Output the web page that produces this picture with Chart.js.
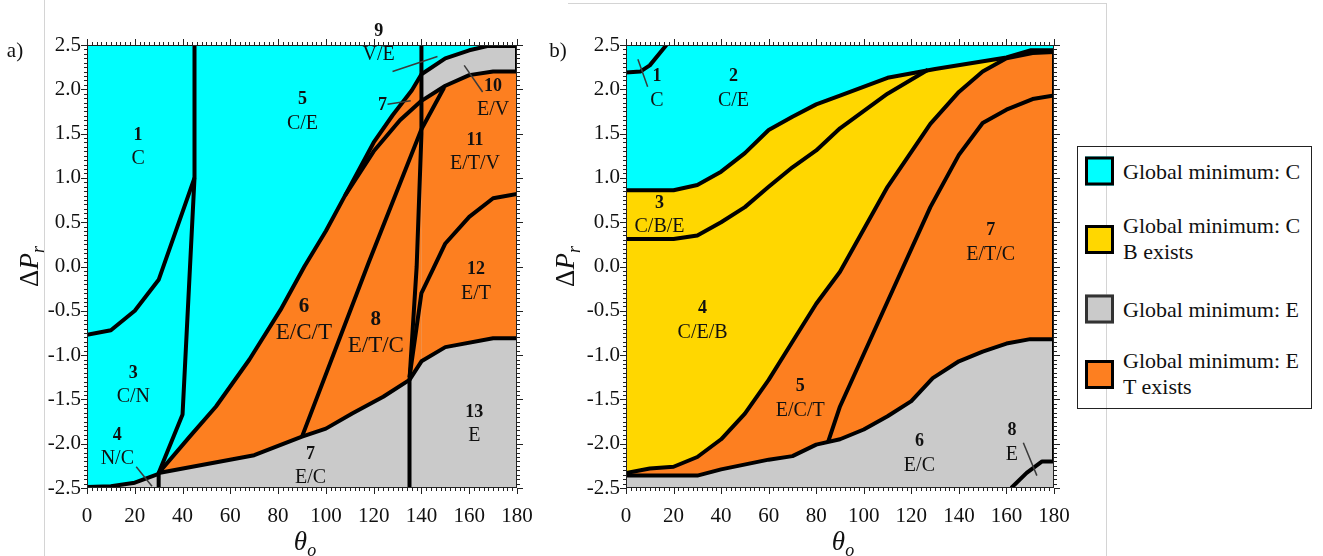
<!DOCTYPE html>
<html>
<head>
<meta charset="utf-8">
<script src="https://cdn.jsdelivr.net/npm/chart.js@4.4.1/dist/chart.umd.min.js"></script>
<style>
  body { margin: 0; background: #fff; width: 1323px; height: 556px; position: relative; overflow: hidden; }
  canvas { position: absolute; top: 0; }
  .rule { position: absolute; background: #d4d4d4; }
  #legend { position: absolute; left: 1077px; top: 146px; width: 233px; height: 261px;
            border: 1.5px solid #222; font-family: "Liberation Serif", serif; font-size: 22px; color: #111; }
  .item { position: absolute; left: 7px; display: flex; align-items: center; transform: translateY(-50%); }
  .sw { width: 23px; height: 23px; border: 3px solid #000; margin-right: 9px; flex: none; }
  .txt { line-height: 26px; white-space: nowrap; }
</style>
</head>
<body>
<div class="rule" style="left:44px;top:0;width:1px;height:556px"></div>
<div class="rule" style="left:568px;top:3px;width:538px;height:1px"></div>
<div class="rule" style="left:1106px;top:3px;width:1px;height:553px"></div>
<canvas id="chartA" width="540" height="556" style="left:0"></canvas>
<canvas id="chartB" width="535" height="556" style="left:540px"></canvas>
<div id="legend"></div>
<script>
// ---------- axes ----------
const xTicks = [0, 20, 40, 60, 80, 100, 120, 140, 160, 180];
const yTicks = [-2.5, -2.0, -1.5, -1.0, -0.5, 0.0, 0.5, 1.0, 1.5, 2.0, 2.5];

// ---------- panel a) region boundaries [theta, dP] ----------
const aCurve13 = [[0, -0.77], [10, -0.72], [20, -0.5], [30, -0.15], [45, 1.0]];
const aVert45 = [[45, 2.5], [45, 1.0], [40, -1.67], [30, -2.33], [30, -2.5]];
const aCurve34 = [[0, -2.49], [10, -2.48], [20, -2.44], [30, -2.34]];
const aOuter = [[30, -2.33], [43, -1.92], [54, -1.58], [68, -1.05], [81, -0.49], [91, 0.0], [100, 0.4],
  [108, 0.8], [120, 1.4], [128, 1.71], [136, 1.99], [140, 2.17], [150, 2.35], [160, 2.44], [168, 2.49], [180, 2.49]];
const aInner = [[108, 0.8], [120, 1.3], [131, 1.65], [140, 1.87], [150, 2.04], [160, 2.16], [170, 2.2], [180, 2.2]];
const aLower = [[30, -2.33], [70, -2.13], [90, -1.92], [100, -1.83], [111, -1.66], [124, -1.47], [135, -1.28],
  [140, -1.07], [150, -0.91], [170, -0.81], [180, -0.81]];
const aDiag = [[90, -1.92], [118, 0.05], [140, 1.55], [149.5, 2.02]];
const aVert140 = [[140, 2.5], [140, 1.5], [138, 0.0], [135, -1.28], [135, -2.5]];
const aCurve12 = [[135, -1.25], [140, -0.3], [145, -0.02], [150, 0.26], [160, 0.56], [170, 0.77], [180, 0.82]];
const aEdge = [[180, 2.49], [180, 2.2]];

// region labels: [number, phases, theta, dP]
const aLabels = [
  ['1', 'C', 21.4, 1.35], ['5', 'C/E', 90.2, 1.75], ['9', 'V/E', 122.1, 2.52], ['7', '', 123.7, 1.82],
  ['10', 'E/V', 170, 1.9], ['11', 'E/T/V', 162.4, 1.29], ['12', 'E/T', 162.8, -0.17], ['13', 'E', 162.1, -1.78],
  ['6', 'E/C/T', 90.8, -0.6], ['8', 'E/T/C', 120.9, -0.75], ['7', 'E/C', 93.6, -2.25],
  ['3', 'C/N', 19.4, -1.34], ['4', 'N/C', 12.7, -2.04]
];
const aLeaders = [[127.9, 2.2, 146.7, 2.37], [125.8, 1.83, 135.5, 1.87], [157.9, 2.27, 165.6, 1.97], [20.6, -2.26, 27.2, -2.48]];

// ---------- panel b) region boundaries ----------
const bCyanYellow = [[0, 0.86], [20, 0.86], [30, 0.92], [40, 1.07], [50, 1.28], [60, 1.54], [70, 1.69], [80, 1.83],
  [90, 1.93], [110, 2.13], [130, 2.23], [160, 2.36], [170, 2.44], [180, 2.44]];
const bCurve34 = [[0, 0.31], [20, 0.31], [30, 0.35], [40, 0.5], [50, 0.67], [60, 0.9], [70, 1.12], [80, 1.31],
  [90, 1.56], [110, 1.95], [127, 2.22]];
const bCurve45 = [[0, -2.33], [10, -2.28], [20, -2.26], [30, -2.15], [40, -1.95], [50, -1.66], [60, -1.28], [70, -0.85],
  [80, -0.42], [90, -0.06], [100, 0.42], [110, 0.9], [128, 1.61], [140, 1.97], [150, 2.2], [160, 2.35], [171, 2.41], [180, 2.42]];
const bCurve57 = [[85, -1.98], [90, -1.58], [116, -0.04], [128, 0.67], [140, 1.26], [150, 1.62], [160, 1.77], [171, 1.89], [180, 1.93]];
const bGrey = [[0, -2.36], [30, -2.36], [40, -2.29], [60, -2.18], [70, -2.14], [80, -2.01], [90, -1.95], [100, -1.84],
  [110, -1.69], [120, -1.52], [129, -1.26], [140, -1.07], [150, -0.96], [160, -0.87], [170, -0.82], [180, -0.82]];
const bCurve1 = [[0, 2.19], [6, 2.2], [10, 2.27], [17, 2.5]];
const bCurve8 = [[162, -2.5], [168.5, -2.33], [175, -2.2], [180, -2.2]];
const bEdge = [[180, 2.44], [180, -2.2]];

const bLabels = [
  ['1', 'C', 13, 2.01], ['2', 'C/E', 45.2, 2.01], ['3', 'C/B/E', 14.1, 0.58], ['4', 'C/E/B', 32.2, -0.61],
  ['5', 'E/C/T', 73.3, -1.49], ['7', 'E/T/C', 153.4, 0.27], ['6', 'E/C', 123.4, -2.11], ['8', 'E', 162.3, -1.99]
];
const bLeaders = [[5, 2.34, 9.1, 2.03], [167.1, -1.99, 172.8, -2.36]];

const legendLabels = [['Global minimum: C'], ['Global minimum: C', 'B exists'], ['Global minimum: E'], ['Global minimum: E', 'T exists']];

// ---------- styles ----------
const COL = { cyan: '#00FFFF', yellow: '#FFD700', grey: '#CACACA', orange: '#FD7F20' };
const SERIF = '"Liberation Serif", "Times New Roman", serif';
const big = new Set(['a6', 'a8']);

const full = [[0, 2.5], [180, 2.5]];
const xy = pts => pts.map(([x, y]) => ({ x, y }));

function fillSet(pts, color, order) {
  return { data: xy(pts), backgroundColor: color, borderWidth: 0, fill: 'start', order: order };
}
function lineSet(pts, w) {
  return { data: xy(pts), borderColor: '#000', borderWidth: w || 4, borderJoinStyle: 'round', fill: false, order: 0 };
}

function drawTitleParts(ctx, parts, cx, cy, rotate) {
  ctx.save();
  ctx.translate(cx, cy);
  if (rotate) ctx.rotate(-Math.PI / 2);
  ctx.textBaseline = 'alphabetic';
  ctx.textAlign = 'left';
  ctx.fillStyle = '#111';
  let total = 0;
  parts.forEach(p => { ctx.font = p.font; total += ctx.measureText(p.t).width; });
  let x = -total / 2;
  parts.forEach(p => { ctx.font = p.font; ctx.fillText(p.t, x, p.dy || 0); x += ctx.measureText(p.t).width; });
  ctx.restore();
}

function decor(panel, labels, leaders, yTitleX, letterX) {
  return {
    id: 'decor' + panel,
    afterDraw(chart) {
      const { ctx, chartArea: ca, scales: { x, y } } = chart;
      ctx.save();
      // frame + ticks on four sides
      ctx.strokeStyle = '#222';
      ctx.lineWidth = 1;
      ctx.strokeRect(ca.left + 0.5, ca.top + 0.5, ca.width - 1, ca.height - 1);
      ctx.beginPath();
      for (let v = 0; v <= 180; v += 2) {
        const px = Math.round(x.getPixelForValue(v)) + 0.5;
        const len = v % 20 === 0 ? 6 : 3;
        ctx.moveTo(px, ca.bottom); ctx.lineTo(px, ca.bottom + len);
        ctx.moveTo(px, ca.top); ctx.lineTo(px, ca.top - len);
      }
      for (let i = -50; i <= 50; i++) {
        const py = Math.round(y.getPixelForValue(i * 0.05)) + 0.5;
        const len = i % 10 === 0 ? 6 : 3;
        ctx.moveTo(ca.left, py); ctx.lineTo(ca.left - len, py);
        ctx.moveTo(ca.right, py); ctx.lineTo(ca.right + len, py);
      }
      ctx.stroke();

      // leader lines
      ctx.strokeStyle = '#3a3a3a';
      ctx.lineWidth = 1.5;
      leaders.forEach(([x1, y1, x2, y2]) => {
        ctx.beginPath();
        ctx.moveTo(x.getPixelForValue(x1), y.getPixelForValue(y1));
        ctx.lineTo(x.getPixelForValue(x2), y.getPixelForValue(y2));
        ctx.stroke();
      });

      // region labels
      ctx.fillStyle = '#111';
      ctx.textAlign = 'center';
      ctx.textBaseline = 'middle';
      labels.forEach(([num, txt, tx, ty]) => {
        const px = x.getPixelForValue(tx), py = y.getPixelForValue(ty);
        const isBig = big.has(panel + num) && txt.length > 3;
        const gap = isBig ? 27 : 24;
        ctx.font = `bold ${isBig ? 21 : 18}px ${SERIF}`;
        ctx.fillText(num, px, txt ? py - gap / 2 : py);
        if (txt) {
          ctx.font = `${isBig ? 23 : 20}px ${SERIF}`;
          ctx.fillText(txt, px, py + gap / 2);
        }
      });

      // panel letter
      ctx.font = `21px ${SERIF}`;
      ctx.textAlign = 'center';
      ctx.fillText(panel + ')', letterX, 51);
      ctx.restore();

      // axis titles
      drawTitleParts(ctx, [
        { t: 'Δ', font: `27px ${SERIF}` },
        { t: 'P', font: `italic 27px ${SERIF}` },
        { t: 'r', font: `italic 18px ${SERIF}`, dy: 6 }
      ], yTitleX, (ca.top + ca.bottom) / 2, true);
      drawTitleParts(ctx, [
        { t: 'θ', font: `italic 27px ${SERIF}` },
        { t: 'o', font: `italic 18px ${SERIF}`, dy: 6 }
      ], (ca.left + ca.right) / 2 + 3, 550, false);
    }
  };
}

function makeOptions(axisWidth, rightPad) {
  const tickFont = { family: SERIF, size: 21 };
  return {
    responsive: false,
    animation: false,
    devicePixelRatio: 1,
    layout: { padding: { top: 45, right: rightPad, left: 0, bottom: 0 } },
    plugins: { legend: { display: false }, tooltip: { enabled: false } },
    elements: { point: { radius: 0 }, line: { tension: 0 } },
    scales: {
      x: {
        type: 'linear', min: 0, max: 180,
        afterBuildTicks: s => { s.ticks = xTicks.map(v => ({ value: v })); },
        afterFit: s => { s.height = 68; s.paddingLeft = 0; s.paddingRight = 0; },
        grid: { display: false, drawTicks: false },
        border: { display: false },
        ticks: { font: tickFont, color: '#111', padding: 16, maxRotation: 0, autoSkip: false }
      },
      y: {
        type: 'linear', min: -2.5, max: 2.5,
        afterBuildTicks: s => { s.ticks = yTicks.map(v => ({ value: v })); },
        afterFit: s => { s.width = axisWidth; s.paddingTop = 0; s.paddingBottom = 0; },
        grid: { display: false, drawTicks: false },
        border: { display: false },
        ticks: { font: tickFont, color: '#111', padding: 6, autoSkip: false, callback: v => v.toFixed(1) }
      }
    }
  };
}

// ---------- panel a ----------
new Chart(document.getElementById('chartA'), {
  type: 'line',
  data: {
    datasets: [
      fillSet(full, COL.cyan, 20),
      fillSet(aOuter, COL.orange, 19),
      fillSet(aOuter.filter(p => p[0] >= 140), COL.grey, 18),
      fillSet(aInner.filter(p => p[0] >= 140), COL.orange, 17),
      fillSet(aCurve34.concat(aLower), COL.grey, 16),
      lineSet(aCurve13), lineSet(aVert45), lineSet(aCurve34), lineSet(aOuter), lineSet(aInner),
      lineSet(aLower), lineSet(aDiag), lineSet(aVert140), lineSet(aCurve12), lineSet(aEdge)
    ]
  },
  options: makeOptions(87, 23),
  plugins: [decor('a', aLabels, aLeaders, 38, 15)]
});

// ---------- panel b ----------
new Chart(document.getElementById('chartB'), {
  type: 'line',
  data: {
    datasets: [
      fillSet(full, COL.cyan, 20),
      fillSet(bCyanYellow, COL.yellow, 19),
      fillSet(bCurve45, COL.orange, 18),
      fillSet(bGrey, COL.grey, 17),
      lineSet(bCyanYellow), lineSet(bCurve34), lineSet(bCurve45), lineSet(bCurve57),
      lineSet(bGrey), lineSet(bCurve1), lineSet(bCurve8), lineSet(bEdge)
    ]
  },
  options: makeOptions(86, 21),
  plugins: [decor('b', bLabels, bLeaders, 34, 18)]
});

// ---------- legend ----------
const legendColors = [COL.cyan, COL.yellow, COL.grey, COL.orange];
const legendCenters = [24, 92, 162, 227];
const legend = document.getElementById('legend');
legendLabels.forEach((lines, i) => {
  const item = document.createElement('div');
  item.className = 'item';
  item.style.top = legendCenters[i] + 'px';
  const sw = document.createElement('div');
  sw.className = 'sw';
  sw.style.background = legendColors[i];
  if (i === 2) sw.style.borderColor = '#333';
  const txt = document.createElement('div');
  txt.className = 'txt';
  txt.innerHTML = lines.join('<br>');
  item.appendChild(sw);
  item.appendChild(txt);
  legend.appendChild(item);
});
</script>
</body>
</html>
